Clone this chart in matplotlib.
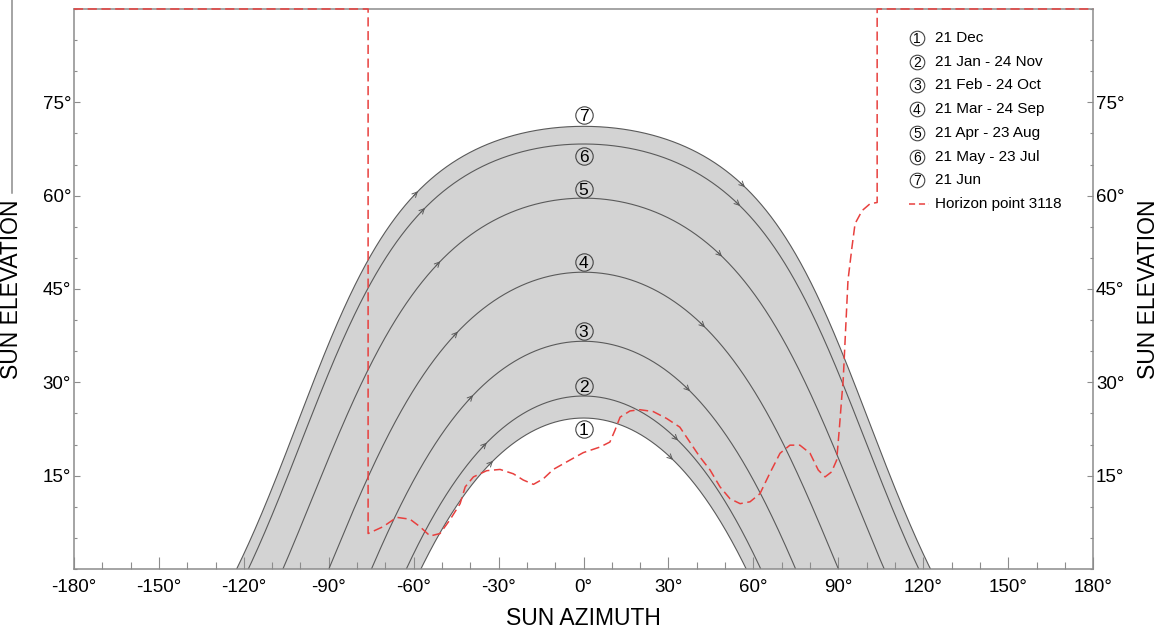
import matplotlib
matplotlib.use("Agg")
import matplotlib.pyplot as plt
from matplotlib.lines import Line2D
import numpy as np

plt.rcParams['font.family'] = ['Liberation Sans', 'DejaVu Sans']

# site latitude and solar declination of each plotted day
latitude = 42.3
declinations = [-23.44, -19.9, -11.1, 0.0, 11.9, 20.6, 23.44]
date_labels = ['21 Dec', '21 Jan - 24 Nov', '21 Feb - 24 Oct', '21 Mar - 24 Sep',
               '21 Apr - 23 Aug', '21 May - 23 Jul', '21 Jun']
number_elev = [22.5, 29.4, 38.3, 49.3, 61.1, 66.4, 73.0]   # circled numbers at az 0
arrow_az_am = [-32.0, -34.2, -39.0, -44.4, -50.6, -56.0, -58.5]
arrow_az_pm = [31.6, 33.4, 37.6, 42.9, 48.9, 55.3, 57.0]

# horizon profile (azimuth, elevation)
horizon_az = [-180, -76.1, -76.1, -70.8, -66.0, -61.3, -57.8, -54.2, -50.7, -47.2,
              -43.6, -41.8, -38.9, -34.2, -29.5, -24.8, -21.3, -17.7, -14.2, -10.7,
              -6.0, -0.1, 5.8, 9.3, 11.1, 12.9, 16.4, 19.9, 24.6, 29.3, 34.0, 39.9,
              41.1, 44.7, 48.2, 51.7, 55.3, 58.8, 62.3, 65.8, 69.4, 72.9, 76.4, 80.0,
              82.9, 85.3, 87.6, 89.4, 90.3, 91.2, 91.7, 93.4, 94.8, 95.9, 98.4, 101.2,
              103.7, 103.7, 180]
horizon_el = [90, 90, 5.7, 6.8, 8.3, 8.0, 6.8, 5.3, 5.7, 7.9,
              10.5, 13.2, 14.8, 15.8, 16.0, 15.3, 14.3, 13.6, 14.5, 16.0,
              17.2, 18.7, 19.6, 20.4, 22.3, 24.4, 25.4, 25.6, 25.3, 24.2, 22.8, 18.8,
              18.0, 15.9, 13.2, 11.3, 10.5, 10.8, 12.1, 15.4, 18.6, 19.9, 19.9, 18.6,
              15.9, 14.8, 15.6, 17.5, 22.3, 27.6, 30.3, 46.4, 51.7, 55.5, 57.6, 58.7,
              58.9, 90, 90]


def sun_path(dec, lat=latitude):
    h = np.radians(np.linspace(-180, 180, 3601))
    d = np.radians(dec)
    p = np.radians(lat)
    el = np.degrees(np.arcsin(np.sin(p) * np.sin(d) + np.cos(p) * np.cos(d) * np.cos(h)))
    az = np.degrees(np.arctan2(np.sin(h), np.cos(h) * np.sin(p) - np.tan(d) * np.cos(p)))
    keep = el > -8
    return az[keep], el[keep]


def circled(x, y, num, ms, fs, mfc='none', coords='data'):
    # open circle with a digit centred on it (digit cap height ~0.72 em)
    tr = ax.transAxes if coords == 'axes fraction' else ax.transData
    ax.plot(x, y, marker='o', ms=ms, mfc=mfc, mec='#444444', mew=0.8,
            transform=tr, zorder=7)
    ax.annotate(str(num), (x, y), xycoords=coords, xytext=(0, -0.36 * fs),
                textcoords='offset points', ha='center', va='baseline',
                fontsize=fs, zorder=8)


fig = plt.figure(figsize=(11.59, 6.32), dpi=100)
ax = fig.add_axes([0.0638, 0.0997, 0.8794, 0.8861])
spine_c = '#8c8c8c'
line_c = '#5a5a5a'

paths = [sun_path(d) for d in declinations]

az_j, el_j = paths[-1]
az_d, el_d = paths[0]
ax.fill(np.concatenate([az_j, az_d[::-1]]), np.concatenate([el_j, el_d[::-1]]),
        color='#d3d3d3', lw=0, zorder=1)

for i, (az, el) in enumerate(paths):
    ax.plot(az, el, color=line_c, lw=0.8, zorder=2)
    order = np.argsort(az)
    for a in (arrow_az_am[i], arrow_az_pm[i]):
        e1 = np.interp(a, az[order], el[order])
        e0 = np.interp(a - 1.5, az[order], el[order])
        ax.annotate('', xy=(a, e1), xytext=(a - 1.5, e0),
                    arrowprops=dict(arrowstyle='->', color=line_c, lw=0.7,
                                    mutation_scale=9, shrinkA=0, shrinkB=0),
                    zorder=3)
    circled(0, number_elev[i], i + 1, ms=12.5, fs=12.5)

ax.plot(horizon_az, horizon_el, color='#e8403e', lw=1.1, ls=(0, (6, 3)),
        clip_on=False, zorder=6)

# legend
x_c, x_t, y0, dy = 0.827, 0.845, 0.948, 0.0423
for i, lab in enumerate(date_labels):
    y = y0 - i * dy
    circled(x_c, y, i + 1, ms=10.5, fs=10, mfc='white', coords='axes fraction')
    ax.text(x_t, y, lab, transform=ax.transAxes, ha='left', va='center', fontsize=11)
y = y0 - 7 * dy
ax.add_line(Line2D([0.819, 0.839], [y, y], transform=ax.transAxes,
                   color='#e8403e', lw=1.1, ls=(0, (4, 2.5))))
ax.text(x_t, y, 'Horizon point 3118', transform=ax.transAxes, ha='left',
        va='center', fontsize=11)

ax.set_xlim(-180, 180)
ax.set_ylim(0, 90)
xt = np.arange(-180, 181, 30)
ax.set_xticks(xt)
ax.set_xticklabels([f'{v}°' for v in xt])
ax.set_xticks(np.arange(-180, 181, 10), minor=True)
yt = np.arange(15, 76, 15)
ax.set_yticks(yt)
ax.set_yticklabels([f'{v}°' for v in yt])
ax.set_yticks(np.arange(0, 91, 5), minor=True)

for s in ax.spines.values():
    s.set_color(spine_c)
    s.set_linewidth(1.1)

ax.tick_params(axis='x', which='major', direction='in', length=8.6, width=0.8,
               color=spine_c, labelsize=13.5, pad=7)
ax.tick_params(axis='x', which='minor', direction='in', length=5, width=0.8,
               color=spine_c)
ax.tick_params(axis='y', which='major', direction='in', length=4.3, width=0.8,
               color=spine_c, labelsize=13.5, pad=2, right=True, labelright=True)
ax.tick_params(axis='y', which='minor', direction='in', length=2.3, width=0.8,
               color=spine_c, right=True)

ax.set_xlabel('SUN AZIMUTH', fontsize=16.5, labelpad=8)
ax.set_ylabel('SUN ELEVATION', fontsize=16.5, labelpad=14)
ax.text(1.054, 0.5, 'SUN ELEVATION', transform=ax.transAxes, rotation=90,
        ha='center', va='center', fontsize=16.5)

fig.add_artist(Line2D([0.0104, 0.0104], [0.695, 1.0], color=spine_c, lw=1.1))

fig.savefig('out.png', dpi=100)
